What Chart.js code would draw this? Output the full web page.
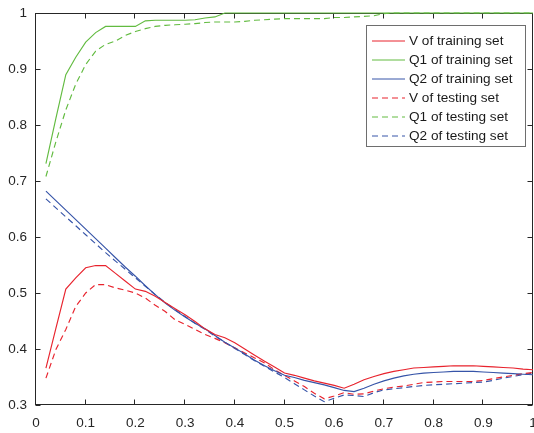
<!DOCTYPE html>
<html>
<head>
<meta charset="utf-8">
<style>
  html, body { margin: 0; padding: 0; background: #ffffff; }
  #wrap { width: 534px; height: 433px; }
</style>
<script src="https://cdn.jsdelivr.net/npm/chart.js@4/dist/chart.umd.min.js"></script>
</head>
<body>
<div id="wrap"><canvas id="c" width="534" height="433"></canvas></div>
<script>
// Sample positions (fraction of the range)
const xValues = [
  0.02, 0.04, 0.06, 0.08, 0.10, 0.12, 0.14, 0.16, 0.18, 0.20,
  0.22, 0.24, 0.26, 0.28, 0.30, 0.32, 0.34, 0.36, 0.38, 0.40,
  0.42, 0.44, 0.46, 0.48, 0.50, 0.52, 0.54, 0.56, 0.58, 0.60,
  0.62, 0.64, 0.66, 0.68, 0.70, 0.72, 0.74, 0.76, 0.78, 0.80,
  0.82, 0.84, 0.86, 0.88, 0.90, 0.92, 0.94, 0.96, 0.98, 1.00
];

// Training set
const vTrain = [
  0.366, 0.437, 0.507, 0.527, 0.545, 0.549, 0.549, 0.535, 0.521, 0.507,
  0.503, 0.494, 0.483, 0.472, 0.461, 0.449, 0.436, 0.426, 0.420, 0.411,
  0.400, 0.389, 0.378, 0.368, 0.357, 0.353, 0.348, 0.343, 0.339, 0.335,
  0.330, 0.337, 0.345, 0.351, 0.356, 0.360, 0.363, 0.366, 0.367, 0.368,
  0.369, 0.370, 0.370, 0.370, 0.369, 0.368, 0.367, 0.366, 0.364, 0.363
];
const q1Train = [
  0.731, 0.812, 0.890, 0.921, 0.948, 0.965, 0.976, 0.976, 0.976, 0.976,
  0.986, 0.987, 0.987, 0.987, 0.987, 0.988, 0.991, 0.993, 1.000, 1.000,
  1.000, 1.000, 1.000, 1.000, 1.000, 1.000, 1.000, 1.000, 1.000, 1.000,
  1.000, 1.000, 1.000, 1.000, 1.000, 1.000, 1.000, 1.000, 1.000, 1.000,
  1.000, 1.000, 1.000, 1.000, 1.000, 1.000, 1.000, 1.000, 1.000, 1.000
];
const q2Train = [
  0.682, 0.665, 0.648, 0.631, 0.614, 0.597, 0.580, 0.563, 0.546, 0.530,
  0.513, 0.497, 0.482, 0.469, 0.457, 0.446, 0.436, 0.424, 0.412, 0.402,
  0.391, 0.380, 0.370, 0.361, 0.353, 0.349, 0.344, 0.340, 0.336, 0.331,
  0.326, 0.324, 0.330, 0.337, 0.343, 0.348, 0.352, 0.355, 0.357, 0.358,
  0.359, 0.360, 0.360, 0.360, 0.359, 0.358, 0.357, 0.356, 0.355, 0.354
];

// Testing set
const vTest = [
  0.348, 0.399, 0.435, 0.476, 0.500, 0.515, 0.515, 0.509, 0.505, 0.500,
  0.491, 0.478, 0.467, 0.452, 0.444, 0.435, 0.426, 0.419, 0.411, 0.402,
  0.393, 0.384, 0.375, 0.363, 0.353, 0.343, 0.333, 0.321, 0.311, 0.316,
  0.322, 0.319, 0.320, 0.325, 0.329, 0.332, 0.334, 0.337, 0.340, 0.341,
  0.342, 0.342, 0.342, 0.342, 0.344, 0.347, 0.350, 0.353, 0.356, 0.358
];
const q1Test = [
  0.708, 0.770, 0.827, 0.873, 0.908, 0.932, 0.944, 0.950, 0.960, 0.967,
  0.972, 0.976, 0.978, 0.979, 0.980, 0.981, 0.983, 0.984, 0.984, 0.984,
  0.985, 0.987, 0.988, 0.989, 0.990, 0.990, 0.990, 0.990, 0.990, 0.992,
  0.992, 0.993, 0.994, 0.995, 0.999, 1.000, 1.000, 1.000, 1.000, 1.000,
  1.000, 1.000, 1.000, 1.000, 1.000, 1.000, 1.000, 1.000, 1.000, 1.000
];
const q2Test = [
  0.668, 0.652, 0.636, 0.620, 0.604, 0.588, 0.572, 0.557, 0.542, 0.527,
  0.512, 0.497, 0.483, 0.470, 0.458, 0.446, 0.435, 0.423, 0.412, 0.401,
  0.390, 0.379, 0.369, 0.359, 0.349, 0.338, 0.327, 0.316, 0.306, 0.312,
  0.318, 0.317, 0.315, 0.322, 0.327, 0.329, 0.331, 0.333, 0.335, 0.336,
  0.337, 0.338, 0.339, 0.340, 0.341, 0.344, 0.348, 0.351, 0.354, 0.357
];

const seriesLabels = [
  'V of training set', 'Q1 of training set', 'Q2 of training set',
  'V of testing set', 'Q1 of testing set', 'Q2 of testing set'
];
const xTicks = [0, 0.1, 0.2, 0.3, 0.4, 0.5, 0.6, 0.7, 0.8, 0.9, 1];
const yTicks = [0.3, 0.4, 0.5, 0.6, 0.7, 0.8, 0.9, 1];

const RED = '#e8232d';
const GREEN = '#62bb40';
const BLUE = '#3654a8';
const AXIS = '#262626';
const FONT = '"Liberation Sans", Arial, sans-serif';
const DASH = [6, 4];

function pts(ys) { return ys.map((y, i) => ({ x: xValues[i], y })); }
function series(label, ys, color, dashed) {
  return {
    label, data: pts(ys), borderColor: color, backgroundColor: color,
    borderWidth: 1.15, borderDash: dashed ? DASH : [], pointRadius: 0,
    tension: 0, fill: false, clip: false
  };
}
function fmt(v) { return String(Number(v.toFixed(1))); }

// Box frame with inward tick marks on all four sides
const framePlugin = {
  id: 'frame',
  beforeDatasetsDraw(chart) {
    const { ctx, chartArea: a, scales } = chart;
    const L = Math.round(a.left) - 0.5, R = Math.round(a.right) - 0.5;
    const T = Math.round(a.top) + 0.5, B = Math.round(a.bottom) - 0.5;
    ctx.save();
    ctx.strokeStyle = AXIS;
    ctx.lineWidth = 1;
    ctx.strokeRect(L, T, R - L, B - T);
    const tl = 5;
    ctx.beginPath();
    xTicks.forEach(v => {
      const px = Math.round(scales.x.getPixelForValue(v)) - 0.5;
      ctx.moveTo(px, B); ctx.lineTo(px, B - tl);
      ctx.moveTo(px, T); ctx.lineTo(px, T + tl);
    });
    yTicks.forEach(v => {
      const py = Math.round(scales.y.getPixelForValue(v)) + 0.5;
      ctx.moveTo(L, py); ctx.lineTo(L + tl, py);
      ctx.moveTo(R, py); ctx.lineTo(R - tl, py);
    });
    ctx.stroke();
    ctx.restore();
  }
};

// Legend box in the upper right of the plot
const legendPlugin = {
  id: 'boxLegend',
  afterDraw(chart) {
    const { ctx } = chart;
    const bx = 366.5, by = 25.5, bw = 159, bh = 121;
    ctx.save();
    ctx.fillStyle = '#ffffff';
    ctx.fillRect(bx, by, bw, bh);
    ctx.strokeStyle = '#6e6e6e';
    ctx.lineWidth = 1;
    ctx.strokeRect(bx, by, bw, bh);
    ctx.font = '13.6px ' + FONT;
    ctx.textBaseline = 'middle';
    ctx.textAlign = 'left';
    chart.data.datasets.forEach((ds, i) => {
      const cy = Math.round(40.7 + i * 19.1);
      ctx.strokeStyle = ds.borderColor;
      ctx.lineWidth = 1;
      ctx.setLineDash(ds.borderDash || []);
      ctx.beginPath();
      ctx.moveTo(372, cy);
      ctx.lineTo(405, cy);
      ctx.stroke();
      ctx.setLineDash([]);
      ctx.fillStyle = '#1a1a1a';
      ctx.fillText(ds.label, 409, cy + 0.5);
    });
    ctx.restore();
  }
};

new Chart(document.getElementById('c'), {
  type: 'line',
  data: {
    datasets: [
      series(seriesLabels[0], vTrain, RED, false),
      series(seriesLabels[1], q1Train, GREEN, false),
      series(seriesLabels[2], q2Train, BLUE, false),
      series(seriesLabels[3], vTest, RED, true),
      series(seriesLabels[4], q1Test, GREEN, true),
      series(seriesLabels[5], q2Test, BLUE, true)
    ]
  },
  options: {
    responsive: false,
    devicePixelRatio: 1,
    animation: false,
    layout: { autoPadding: false, padding: { top: 13, right: 1, left: 0, bottom: 0 } },
    plugins: { legend: { display: false }, tooltip: { enabled: false } },
    scales: {
      x: {
        type: 'linear', min: 0, max: 1,
        afterBuildTicks: s => { s.ticks = xTicks.map(v => ({ value: v })); },
        afterFit: s => { s.height = 28; s.paddingLeft = 0; s.paddingRight = 0; },
        grid: { display: false, drawTicks: false },
        border: { display: false },
        ticks: {
          autoSkip: false, maxRotation: 0, padding: 10, color: AXIS,
          font: { family: FONT, size: 13.5 }, callback: v => fmt(v)
        }
      },
      y: {
        type: 'linear', min: 0.3, max: 1,
        afterBuildTicks: s => { s.ticks = yTicks.map(v => ({ value: v })); },
        afterFit: s => { s.width = 36; s.paddingTop = 0; s.paddingBottom = 0; },
        grid: { display: false, drawTicks: false },
        border: { display: false },
        ticks: {
          autoSkip: false, padding: 9, color: AXIS,
          font: { family: FONT, size: 13.5 }, callback: v => fmt(v)
        }
      }
    }
  },
  plugins: [framePlugin, legendPlugin]
});
</script>
</body>
</html>
